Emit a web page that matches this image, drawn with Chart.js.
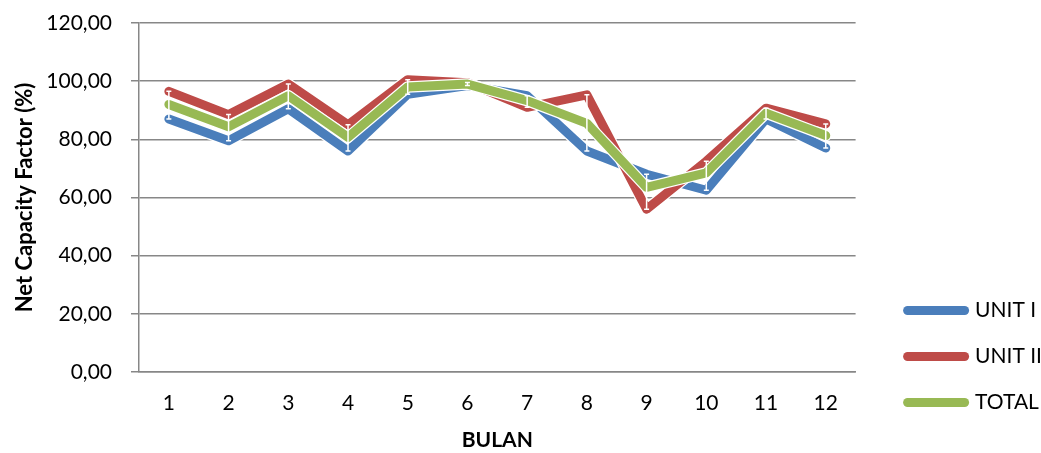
<!DOCTYPE html>
<html>
<head>
<meta charset="utf-8">
<script src="https://cdn.jsdelivr.net/npm/chart.js@4"></script>
<style>
  body { margin: 0; background: #fff; }
  #wrap { width: 1041px; height: 453px; }
</style>
</head>
<body>
<div id="wrap"><canvas id="ncf"></canvas></div>
<script>
// months and net capacity factor (%) per unit
var months = ["1", "2", "3", "4", "5", "6", "7", "8", "9", "10", "11", "12"];
var unit1 = [87, 79.5, 90.5, 76, 95.5, 98.5, 95, 76, 68, 62.5, 87, 77];
var unit2 = [96.5, 88.5, 99, 85, 100.5, 99.5, 91, 95.3, 56, 72.5, 90.7, 85.3];
var total = [92, 84.3, 95, 80.7, 98, 99, 93.3, 85.5, 63.5, 68.5, 89, 81.3];
var yTicks = [0, 20, 40, 60, 80, 100, 120];

var gridColor = "#878787";
var font = "Lato";
var lineW = 9;

// thin white outline under every line
var outline = {
  id: "outline",
  beforeDatasetDraw: function (chart, args) {
    var pts = args.meta.data;
    var ctx = chart.ctx;
    ctx.save();
    ctx.strokeStyle = "#fff";
    ctx.lineWidth = lineW + 2.5;
    ctx.lineJoin = "round";
    ctx.lineCap = "round";
    ctx.beginPath();
    pts.forEach(function (p, i) {
      if (i === 0) ctx.moveTo(p.x, p.y);
      else ctx.lineTo(p.x, p.y);
    });
    ctx.stroke();
    ctx.restore();
  },
};

// white range bars on the total, from unit I to unit II
var rangeBars = {
  id: "rangeBars",
  afterDatasetsDraw: function (chart) {
    var ctx = chart.ctx;
    var x = chart.scales.x;
    var y = chart.scales.y;
    ctx.save();
    ctx.strokeStyle = "#fff";
    ctx.lineWidth = 1.5;
    months.forEach(function (m, i) {
      var px = x.getPixelForValue(i);
      var top = y.getPixelForValue(Math.max(unit1[i], unit2[i]));
      var bot = y.getPixelForValue(Math.min(unit1[i], unit2[i]));
      ctx.beginPath();
      ctx.moveTo(px, top);
      ctx.lineTo(px, bot);
      ctx.moveTo(px - 2.5, top);
      ctx.lineTo(px + 2.5, top);
      ctx.moveTo(px - 2.5, bot);
      ctx.lineTo(px + 2.5, bot);
      ctx.stroke();
    });
    ctx.restore();
  },
};

// push the legend down-right, clear of the plot
var legendShift = {
  id: "legendShift",
  afterLayout: function (chart) {
    var lg = chart.legend;
    lg.left += 27;
    lg.right += 27;
    lg.top -= 15;
    lg.bottom -= 15;
  },
};

function series(label, values, color, order) {
  return {
    label: label,
    data: values,
    borderColor: color,
    backgroundColor: color,
    borderWidth: lineW,
    borderJoinStyle: "round",
    borderCapStyle: "round",
    pointRadius: 0,
    tension: 0,
    order: order,
  };
}

new Chart(document.getElementById("ncf"), {
  type: "line",
  data: {
    labels: months,
    datasets: [
      series("UNIT I", unit1, "#4A7EBB", 2),
      series("UNIT II", unit2, "#BE4B48", 1),
      series("TOTAL", total, "#98B954", 0),
    ],
  },
  plugins: [outline, rangeBars, legendShift],
  options: {
    responsive: true,
    maintainAspectRatio: false,
    animation: false,
    layout: { padding: { top: 23, left: 8, right: 16, bottom: 0 } },
    plugins: {
      tooltip: { enabled: false },
      legend: {
        position: "right",
        align: "end",
        labels: {
          usePointStyle: true,
          pointStyle: "line",
          pointStyleWidth: 57,
          padding: 25,
          color: "#000",
          font: { family: font, size: 21 },
          sort: function (a, b) {
            return a.datasetIndex - b.datasetIndex;
          },
          generateLabels: function (chart) {
            var items = Chart.defaults.plugins.legend.labels.generateLabels(chart);
            items.forEach(function (it) {
              it.lineCap = "round";
              it.lineWidth = lineW;
            });
            return items;
          },
        },
      },
    },
    scales: {
      x: {
        offset: true,
        afterFit: function (axis) {
          axis.height = 81;
        },
        grid: { display: false, drawTicks: false },
        border: { display: true, color: gridColor, width: 1.5 },
        ticks: { color: "#000", padding: 19, font: { family: font, size: 21 } },
        title: {
          display: true,
          text: "BULAN",
          color: "#000",
          padding: { top: 10, bottom: 0 },
          font: { family: font, size: 21, weight: "bold" },
        },
      },
      y: {
        min: 0,
        max: 120,
        afterBuildTicks: function (axis) {
          axis.ticks = yTicks.map(function (v) { return { value: v }; });
        },
        afterFit: function (axis) {
          axis.width = 131;
          axis.paddingTop = 0;
        },
        grid: { color: gridColor, lineWidth: 1.5, tickLength: 8 },
        border: { display: true, color: gridColor, width: 1.5 },
        ticks: {
          color: "#000",
          padding: 19,
          font: { family: font, size: 21 },
          callback: function (v) {
            return v.toFixed(2).replace(".", ",");
          },
        },
        title: {
          display: true,
          text: "Net Capacity Factor (%)",
          color: "#000",
          padding: { top: 4, bottom: 4 },
          font: { family: font, size: 22, weight: "bold" },
        },
      },
    },
  },
});
</script>
</body>
</html>
